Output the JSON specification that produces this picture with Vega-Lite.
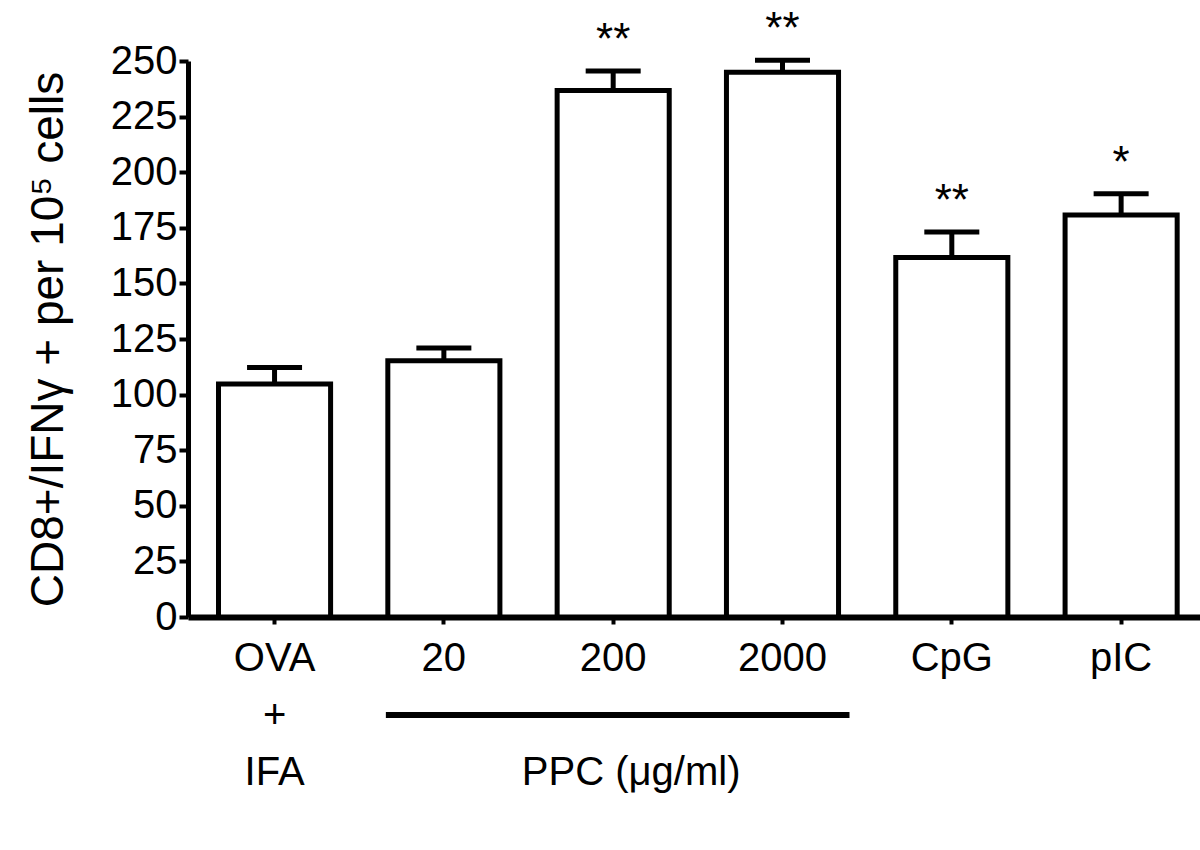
{
  "$schema": "https://vega.github.io/schema/vega-lite/v6.json",
  "width": 1012,
  "height": 556,
  "autosize": "none",
  "padding": {"left": 188, "top": 61, "right": 0, "bottom": 233},
  "background": "white",
  "config": {
    "view": {"stroke": null},
    "font": "Liberation Sans",
    "axis": {"labelFont": "Liberation Sans", "titleFont": "Liberation Sans", "labelColor": "black", "titleColor": "black", "domainColor": "black", "tickColor": "black", "grid": false}
  },
  "layer": [
    {
      "data": {"values": [
        {"group": "OVA", "mean": 104.8, "upper": 112.2, "sig": ""},
        {"group": "20", "mean": 115.2, "upper": 121.0, "sig": ""},
        {"group": "200", "mean": 236.7, "upper": 245.5, "sig": "**"},
        {"group": "2000", "mean": 244.9, "upper": 250.3, "sig": "**"},
        {"group": "CpG", "mean": 161.7, "upper": 173.1, "sig": "**"},
        {"group": "pIC", "mean": 180.8, "upper": 190.3, "sig": "*"}
      ]},
      "encoding": {
        "x": {
          "field": "group", "type": "nominal", "sort": null,
          "scale": {"domain": ["OVA", "20", "200", "2000", "CpG", "pIC"], "paddingInner": 0.338, "paddingOuter": 0.1575, "align": 0.572},
          "axis": {
            "title": null, "labelAngle": 0, "labelFontSize": 40, "labelPadding": 14, "labelLineHeight": 57, "labelLimit": 500,
            "domainWidth": 6, "tickSize": 7, "tickWidth": 4,
            "labelExpr": "datum.value == 'OVA' ? ['OVA', '+', 'IFA'] : datum.value"
          }
        }
      },
      "layer": [
        {
          "mark": {"type": "bar", "fill": "white", "stroke": "black", "strokeWidth": 5},
          "encoding": {
            "y": {
              "field": "mean", "type": "quantitative",
              "scale": {"domain": [0, 250], "nice": false},
              "axis": {
                "values": [0, 25, 50, 75, 100, 125, 150, 175, 200, 225, 250],
                "title": "CD8+/IFNγ + per 10⁵ cells",
                "titleFontSize": 46, "titleFontWeight": "normal", "titlePadding": 38,
                "labelFontSize": 40, "labelPadding": 2,
                "domainWidth": 5, "tickSize": 9, "tickWidth": 4
              }
            }
          }
        },
        {
          "mark": {"type": "rule", "stroke": "black", "strokeWidth": 5},
          "encoding": {
            "y": {"field": "mean", "type": "quantitative"},
            "y2": {"field": "upper"}
          }
        },
        {
          "mark": {"type": "tick", "color": "black", "size": 55, "thickness": 5, "opacity": 1},
          "encoding": {
            "y": {"field": "upper", "type": "quantitative"}
          }
        },
        {
          "mark": {"type": "text", "fontSize": 44, "baseline": "alphabetic", "dy": -17, "color": "black"},
          "encoding": {
            "y": {"field": "upper", "type": "quantitative"},
            "text": {"field": "sig"}
          }
        }
      ]
    },
    {
      "data": {"values": [{"from": "20", "to": "2000", "base": 0}]},
      "mark": {"type": "rule", "stroke": "black", "strokeWidth": 6, "xOffset": -58, "x2Offset": 67, "yOffset": 98},
      "encoding": {
        "x": {"field": "from", "type": "nominal"},
        "x2": {"field": "to"},
        "y": {"field": "base", "type": "quantitative"}
      }
    },
    {
      "data": {"values": [{"at": "200", "base": 0, "label": "PPC (μg/ml)"}]},
      "mark": {"type": "text", "fontSize": 40, "baseline": "middle", "align": "center", "dy": 156, "xOffset": 18, "color": "black"},
      "encoding": {
        "x": {"field": "at", "type": "nominal"},
        "y": {"field": "base", "type": "quantitative"},
        "text": {"field": "label"}
      }
    }
  ]
}
